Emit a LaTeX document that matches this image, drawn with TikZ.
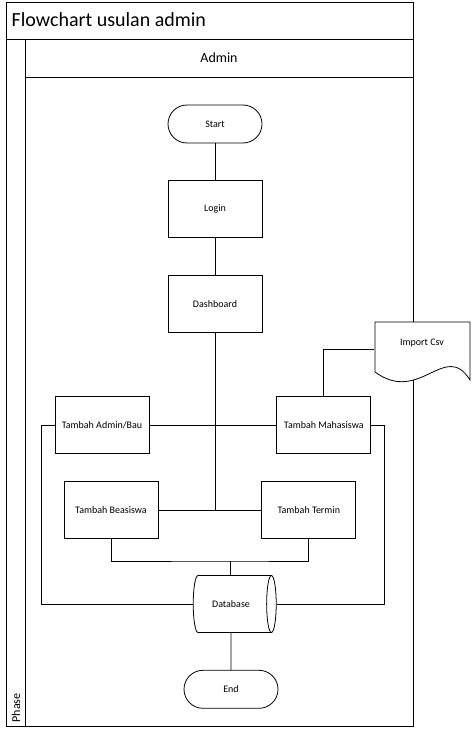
\documentclass[tikz,border=0pt]{standalone}
\usepackage{fontspec}
\setmainfont{Carlito}
\usetikzlibrary{positioning,shapes.geometric}

\begin{document}
\begin{tikzpicture}[x=1pt,y=-1pt,line width=0.8pt]\fontsize{10}{12}\selectfont
  \tikzset{term/.style={draw,rounded corners=19pt,minimum width=94pt,minimum height=38pt},
    proc/.style={draw,minimum width=94pt,minimum height=57pt}}
  \useasboundingbox (0,0) rectangle (471,733);
  \draw (6,2) rectangle (413,726);
  \draw (6,39) -- (413,39);
  \draw (25,39) -- (25,726);
  \draw (25,77) -- (413,77);
  \node[anchor=west,font=\fontsize{20}{24}\selectfont] (title) at (8,20) {Flowchart usulan admin};
  \node[font=\fontsize{14}{17}\selectfont] (lanename) at (219,58) {Admin};
  \node[rotate=90,anchor=west,font=\fontsize{12}{14}\selectfont] (phase) at (16,726) {Phase};
    \node[term] (start) at (215,124) {Start};
    \node[proc,below=37pt of start] (login) {Login}
    edge (start);
    \node[proc,below=37pt of login] (dash) {Dashboard}
    edge (login);
    \node[proc] (adminbau) at (102,425) {Tambah Admin/Bau};
    \node[proc,right=127pt of adminbau] (mahasiswa) {Tambah Mahasiswa}
    edge (adminbau);
    \node[proc] (beasiswa) at (111,510) {Tambah Beasiswa};
    \node[proc,right=103pt of beasiswa] (termin) {Tambah Termin}
    edge (beasiswa);
    \node[cylinder,draw,shape border rotate=0,aspect=0.7,minimum height=83pt,minimum width=57pt] (db) at (231,604) {Database};
    \node[term,below=37pt of db] (end) {End}
    edge (db);
  \draw (dash) -- (dash |- termin);
  \coordinate (merge) at (230,561);
  \draw (beasiswa.south) |- (merge) -| (termin.south);
  \draw (merge) -- (merge |- db.north);
  \coordinate (lbend) at (41,425);
  \draw (adminbau.west) -- (lbend) |- (db.west);
  \coordinate (rbend) at (384,425);
  \draw (mahasiswa.east) -- (rbend) |- (db.east);
  \draw[fill=white] (375,322) -- (470,322) -- (470,380) .. controls (445,340) and (420,405) .. (375,372) -- cycle;
    \node[minimum width=95pt] (csv) at (422,343) {Import Csv};
  \draw ([yshift=-6pt]csv.west) -| (mahasiswa.north);
\end{tikzpicture}
\end{document}
